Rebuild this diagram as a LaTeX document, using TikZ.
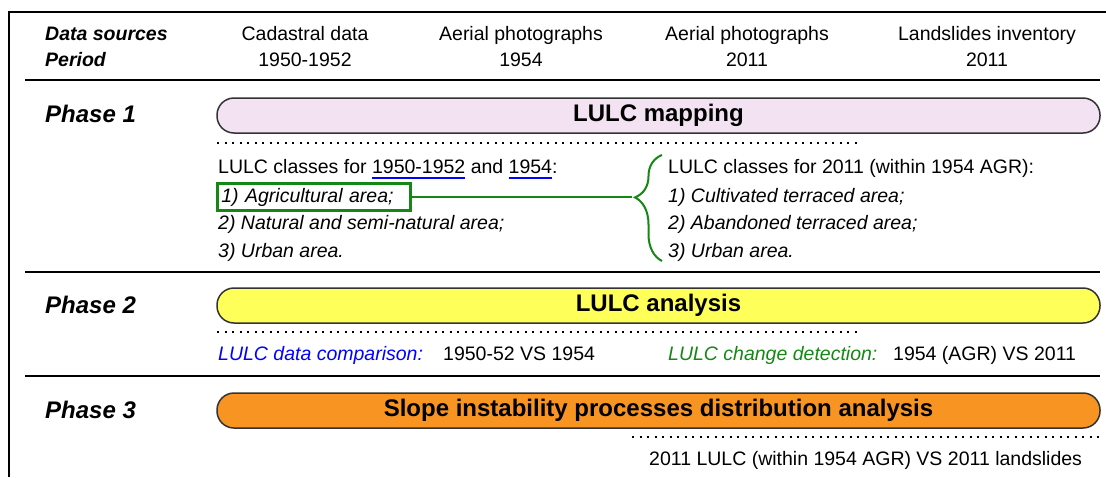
\documentclass[tikz,border=0pt]{standalone}
\usepackage{fontspec}
\setmainfont{Liberation Sans}
\usetikzlibrary{decorations.pathreplacing}
\definecolor{mappink}{RGB}{242,226,242}
\definecolor{anayellow}{RGB}{255,255,90}
\definecolor{slopeorange}{RGB}{247,148,34}
\definecolor{lulcgreen}{RGB}{20,135,20}
\newsavebox\ulbox
\def\blueul#1{\sbox\ulbox{#1}\rlap{\color{blue}\rule[-5pt]{\wd\ulbox}{1.5pt}}\usebox\ulbox}

\begin{document}
\begin{tikzpicture}[x=1pt,y=-1pt,
    txt/.style={anchor=base west,inner sep=0pt,font=\fontsize{19.5}{24}\selectfont},
    itxt/.style={txt,font=\fontsize{19.5}{24}\selectfont\itshape},
    head/.style={anchor=base,inner sep=0pt,font=\fontsize{19.5}{24}\selectfont},
    phase/.style={anchor=base west,inner sep=0pt,font=\fontsize{24}{28}\selectfont\bfseries\itshape},
    bar/.style={draw=black!80,line width=1.5pt,rounded corners=17pt,minimum width=883pt,
      minimum height=35pt,inner sep=0pt,font=\fontsize{24}{28}\selectfont\bfseries},
    sep/.style={line width=2pt},
    dots/.style={line width=2pt,dash pattern=on 2pt off 5.5pt}]
			\useasboundingbox (0,0) rectangle (1106,477);
			%%%%% FRAME %%%%%
			\draw[sep] (1106,12) -- (9,12) -- (9,477);
			
			%%%%% HEADER %%%%%
			\node[txt,font=\fontsize{19.5}{24}\selectfont\bfseries\itshape] (dsrc) at (45,40) {Data sources};
			\node[txt,font=\fontsize{19.5}{24}\selectfont\bfseries\itshape] (per) at (45,66) {Period};
			\foreach \x/\s/\p [count=\i] in {305/Cadastral data/1950-1952, 521/Aerial photographs/1954,
			    747/Aerial photographs/2011, 987/Landslides inventory/2011}{
			  \node[head] (src\i) at (\x,40) {\s};
			  \node[head] (per\i) at (\x,66) {\p};
			}
			\draw[sep] (25,80) -- (1100,80);
			
			%%%%% PHASE 1 %%%%%
			\node[phase] (ph1) at (45,122.5) {Phase 1};
			\node[bar,fill=mappink] (map) at (658.5,115.5) {LULC mapping};
			\draw[dots] (217,143) -- (857,143);
			
			\node[txt] (cls1) at (218,173.5) {LULC classes for \blueul{1950-1952} and \blueul{1954}:};
			\node[itxt,draw=lulcgreen,line width=2.5pt,text width=185pt,align=left,
			  inner xsep=4pt,inner ysep=4.5pt] (agr) at (216,202) {1) Agricultural area;};
			\node[itxt] (nat) at (218,229.5) {2) Natural and semi-natural area;};
			\node[itxt] (urb1) at (218,257) {3) Urban area.};
			
			\node[txt] (cls2) at (668,173.5) {LULC classes for 2011 (within 1954 AGR):};
			\node[itxt] (cult) at (668,202) {1) Cultivated terraced area;};
			\node[itxt] (aband) at (668,229.5) {2) Abandoned terraced area;};
			\node[itxt] (urb2) at (668,257) {3) Urban area.};
			
			\draw[lulcgreen,line width=2pt,decorate,decoration={brace,amplitude=27pt,aspect=0.60}]
			  (662,261) -- (662,155);
			\coordinate (bracetip) at (632,197);
			\draw[lulcgreen,line width=2pt] (agr.east |- bracetip) -- (bracetip);
			
			\draw[sep] (25,272) -- (1100,272);
			
			%%%%% PHASE 2 %%%%%
			\node[phase] (ph2) at (45,313.5) {Phase 2};
			\node[bar,fill=anayellow] (ana) at (658.5,305.5) {LULC analysis};
			\draw[dots] (217,332) -- (857,332);
			\node[itxt,text=blue] (cmp) at (218,360) {LULC data comparison:};
			\node[txt] (cmpval) at (443,360) {1950-52 VS 1954};
			\node[itxt,text=lulcgreen] (chg) at (668,360) {LULC change detection:};
			\node[txt] (chgval) at (893,360) {1954 (AGR) VS 2011};
			
			\draw[sep] (25,376) -- (1100,376);
			
			%%%%% PHASE 3 %%%%%
			\node[phase] (ph3) at (45,418) {Phase 3};
			\node[bar,fill=slopeorange] (slope) at (658.5,410.5) {Slope instability processes distribution analysis};
			\draw[dots] (632,437) -- (1100,437);
			\node[txt] (lsl) at (649,465) {2011 LULC (within 1954 AGR) VS 2011 landslides};
			%%%%% END %%%%%
		\end{tikzpicture}
\end{document}
